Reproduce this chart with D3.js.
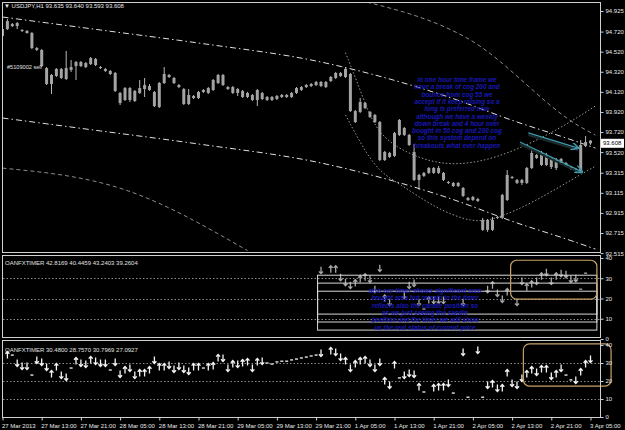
<!DOCTYPE html>
<html>
<head>
<meta charset="utf-8">
<script src="https://cdn.jsdelivr.net/npm/d3@7/dist/d3.min.js"></script>
<style>
  body { margin: 0; background: #000; }
  svg { display: block; font-family: "Liberation Sans", Arial, sans-serif; }
</style>
</head>
<body>
<svg id="chart" width="625" height="430"></svg>
<script>
// ---- data (USDJPY H1, one entry per bar) ----
const opens  = [94.745,94.745,94.795,94.775,94.736,94.726,94.706,94.556,94.537,94.357,94.198,94.278,94.348,94.248,94.338,94.377,94.417,94.367,94.397,94.447,
                94.367,94.348,94.328,94.308,94.109,94.039,94.158,94.029,94.109,94.148,94.178,94.119,93.969,94.208,94.288,94.258,94.188,94.148,93.999,94.079,
                94.059,94.119,94.109,94.139,94.208,94.288,94.168,94.168,94.109,94.129,94.069,94.089,94.039,94.109,94.069,94.039,94.049,94.069,94.089,94.069,
                94.109,94.139,94.168,94.178,94.188,94.218,94.168,94.228,94.258,94.308,94.268,94.298,93.929,93.920,94.009,93.920,93.890,93.820,93.442,93.512,
                93.482,93.691,93.760,93.691,93.522,93.243,93.283,93.313,93.362,93.313,93.313,93.223,93.213,93.183,93.163,93.064,93.044,93.054,92.845,92.746,
                92.845,92.865,92.865,93.044,93.273,93.243,93.213,93.213,93.362,93.492,93.392,93.492,93.462,93.362,93.452,93.412,93.372,93.352,93.323,93.581,93.635];
const highs  = [94.765,94.845,94.805,94.815,94.745,94.736,94.716,94.566,94.546,94.367,94.298,94.357,94.357,94.527,94.437,94.427,94.427,94.417,94.467,94.457,
                94.377,94.357,94.338,94.318,94.119,94.168,94.168,94.139,94.238,94.258,94.198,94.129,94.218,94.367,94.298,94.268,94.198,94.158,94.148,94.089,
                94.129,94.148,94.168,94.248,94.298,94.298,94.178,94.178,94.158,94.139,94.119,94.099,94.148,94.119,94.079,94.079,94.089,94.099,94.099,94.119,
                94.168,94.178,94.198,94.208,94.228,94.228,94.228,94.278,94.318,94.318,94.357,94.308,93.940,94.059,94.019,93.930,93.900,93.830,93.532,93.522,
                93.721,93.850,93.770,93.701,93.600,93.303,93.323,93.372,93.372,93.382,93.323,93.233,93.223,93.223,93.173,93.074,93.084,93.064,92.865,92.855,
                92.875,92.885,93.104,93.342,93.283,93.253,93.253,93.372,93.541,93.502,93.531,93.512,93.472,93.462,93.462,93.422,93.382,93.362,93.641,93.681,93.640];
const lows   = [94.660,94.736,94.765,94.745,94.716,94.700,94.546,94.527,94.367,94.188,94.099,94.268,94.248,94.238,94.318,94.238,94.367,94.357,94.387,94.377,
                94.348,94.318,94.288,94.119,93.989,94.029,94.019,94.019,94.099,94.069,94.129,93.969,93.959,94.198,94.258,94.198,94.158,93.989,93.989,94.049,
                94.049,94.109,94.099,94.129,94.198,94.178,94.139,94.099,94.079,94.059,94.059,94.029,93.979,94.039,94.029,94.029,94.039,94.059,94.059,94.059,
                94.099,94.129,94.158,94.168,94.178,94.168,94.158,94.218,94.248,94.268,94.258,93.920,93.810,93.910,93.949,93.860,93.810,93.432,93.432,93.462,
                93.472,93.681,93.681,93.581,93.233,93.144,93.273,93.303,93.303,93.303,93.233,93.203,93.173,93.173,93.074,93.034,93.034,93.024,92.736,92.726,
                92.736,92.855,92.855,93.034,93.253,93.203,93.193,93.203,93.352,93.452,93.382,93.382,93.352,93.342,93.402,93.372,93.342,93.323,93.303,93.571,93.593];
const closes = [94.676,94.825,94.775,94.805,94.726,94.706,94.556,94.537,94.377,94.198,94.288,94.348,94.258,94.357,94.367,94.417,94.377,94.407,94.457,94.387,
                94.357,94.328,94.298,94.129,94.009,94.158,94.039,94.129,94.158,94.188,94.139,93.979,94.208,94.298,94.268,94.208,94.168,93.999,94.089,94.059,
                94.119,94.139,94.158,94.238,94.288,94.188,94.148,94.109,94.148,94.069,94.109,94.039,94.139,94.049,94.039,94.069,94.079,94.089,94.069,94.109,
                94.158,94.168,94.188,94.198,94.218,94.178,94.218,94.268,94.308,94.278,94.348,93.929,93.820,94.019,93.959,93.870,93.820,93.442,93.522,93.472,
                93.711,93.840,93.691,93.591,93.243,93.293,93.313,93.362,93.313,93.362,93.243,93.213,93.183,93.213,93.084,93.044,93.074,93.034,92.746,92.845,
                92.746,92.875,93.094,93.293,93.263,93.213,93.243,93.362,93.512,93.462,93.512,93.392,93.372,93.442,93.412,93.382,93.352,93.342,93.591,93.621,93.608];

const priceTicks = [94.925, 94.720, 94.520, 94.320, 94.120, 93.920, 93.720, 93.520, 93.315, 93.115, 92.915, 92.715, 92.515];
const timerTicks = [40, 30, 20, 10, 0];
const timerLevels = [30, 20, 10];
const timeLabels = ["27 Mar 2013","27 Mar 13:00","27 Mar 21:00","28 Mar 05:00","28 Mar 13:00","28 Mar 21:00","29 Mar 05:00","29 Mar 13:00",
                    "29 Mar 21:00","1 Apr 05:00","1 Apr 13:00","1 Apr 21:00","2 Apr 05:00","2 Apr 13:00","2 Apr 21:00","3 Apr 05:00"];

// COG channel lines: [bar, price]
const cogUpper  = [[0,94.865],[20,94.736],[40,94.606],[65,94.417],[72,94.338],[91,94.069],[105,93.820],[115,93.661],[121,93.560]];
const cogLower  = cogUpper.map(p => [p[0], p[1] - 1.005]);
const outerLow  = [[0,93.361],[25,93.145],[50,92.540]];
const outerHigh = [[73,95.030],[95,94.650],[118,93.770],[121,93.690]];
const arcUpper  = [[70,94.510],[73,94.140],[76,93.740],[81,93.540],[89,93.390],[97,93.410],[105,93.540],[114,93.760],[121,93.980]];
const arcLower  = [[70,93.890],[76,93.340],[81,93.210],[88,92.970],[96,92.810],[101,92.860],[108,93.010],[117,93.270],[121,93.380]];

// hand drawn teal arrows: [bar0, price0, bar1, price1]
const tealArrows = [[107.3,93.711,117.5,93.561],[105.6,93.621,118.3,93.323]];

const noteMain = ["in one hour time frame we","have a break of cog 200 and","bounce from cog 55 we","accept if it keep raising so a",
                  "long is preferred now","although we have a weekly","down break and 4 hour over","bought in 50 cog and 200 cog",
                  "so this system depend on","breakouts what ever happen"];
const noteTimer = ["also our timer shows significant area","bought area but remain in the timer","reflects also the candle position so",
                   "as we just seeing the candle","position and the timer we will show","us the real status of current price"];

// OANFXTIMER arrows: [bar, value, kind]  u = up arrow, d = down arrow, s = small mark
const timer1 = [[65,34,'d'],[67,34.5,'u'],[68,34.5,'u'],[69,30.5,'d'],[70,28,'d'],[71,26.6,'d'],[72,27.6,'u'],[73,29.6,'u'],[74,30.5,'u'],[75,29.6,'d'],
                [76,24.6,'d'],[77,35,'d'],[78,20,'u'],[79,18.2,'d'],[82,21.7,'d'],[83,26.6,'d'],[84,27.6,'d'],[85,18.2,'d'],[86,14.8,'s'],[87,19.2,'u'],
                [88,19.2,'d'],[89,19.2,'d'],[90,19.2,'d'],[94,18.2,'d'],[99,24.6,'d'],[100,26.6,'u'],[101,22.7,'d'],[102,19.7,'d'],[103,23.2,'u'],[105,18.2,'d'],
                [106,28.6,'d'],[107,25.6,'u'],[108,27.1,'u'],[109,28.6,'d'],[110,31,'u'],[111,33,'d'],[112,28.6,'d'],[113,31,'u'],[114,32.5,'d'],[115,32,'d'],
                [116,29.6,'d'],[117,30,'d'],[118,24.6,'s'],[119,32.5,'s']];
const timer2 = [[1,34.4,'u'],[2,34.4,'s'],[3,30,'d'],[4,28.3,'d'],[5,28.3,'d'],[6,23.3,'s'],[7,31.7,'d'],[8,30.6,'d'],[9,27.8,'d'],[10,23.9,'u'],
                [11,27.8,'u'],[12,23.3,'d'],[13,22.2,'d'],[14,27.2,'s'],[15,31.1,'u'],[16,30,'d'],[17,29.4,'d'],[18,31.7,'u'],[19,31.1,'d'],[20,30,'d'],
                [21,30,'d'],[22,26.1,'s'],[23,30.6,'d'],[24,23.9,'d'],[25,26.1,'u'],[26,27.2,'d'],[27,23.3,'d'],[28,24.4,'u'],[29,24.4,'u'],[30,26.1,'u'],
                [31,31.7,'d'],[32,27.8,'u'],[33,27.8,'u'],[34,28.9,'d'],[35,26.7,'d'],[36,28.3,'d'],[37,26.7,'d'],[38,25.6,'d'],[39,27.8,'u'],[40,27.8,'u'],
                [41,27.2,'s'],[42,27.8,'u'],[43,28.3,'u'],[44,32.8,'u'],[45,32.8,'d'],[46,27.2,'d'],[47,29.4,'u'],[48,29.4,'d'],[49,30,'u'],[50,30.6,'u'],
                [51,27.2,'d'],[52,30.6,'u'],[53,31.1,'d'],[54,30,'s'],[55,29.4,'s'],[56,30.6,'s'],[57,31,'s'],[58,31,'s'],[59,31.7,'s'],[60,32.2,'s'],
                [61,32.8,'s'],[62,33.3,'s'],[63,33.9,'s'],[64,34.4,'s'],[65,35.6,'d'],[67,36.7,'u'],[68,36.1,'d'],[69,33.3,'d'],[70,31.1,'u'],[71,27.2,'d'],
                [72,29.4,'u'],[73,31.1,'u'],[74,31.7,'u'],[75,30,'d'],[76,27.2,'d'],[77,30.6,'d'],[78,20,'u'],[79,17.8,'d'],[80,28.9,'u'],[81,21.7,'s'],
                [82,23.3,'d'],[83,24.4,'d'],[84,23.9,'d'],[85,16.7,'u'],[86,13.9,'s'],[88,16.1,'u'],[89,16.7,'u'],[90,16.7,'u'],[91,18.9,'d'],[92,13.3,'s'],
                [94,36.1,'d'],[95,11,'s'],[97,37.2,'d'],[98,11,'s'],[99,17.8,'d'],[100,18.3,'u'],[101,16.1,'d'],[102,16.1,'u'],[103,24.4,'u'],[104,18.9,'d'],
                [105,17.8,'d'],[106,21.7,'d'],[107,23.9,'u'],[108,26.1,'u'],[109,25,'d'],[110,26.7,'u'],[111,26.7,'u'],[112,22.8,'d'],[113,23.9,'u'],[114,27.2,'d'],
                [115,23.3,'s'],[116,20.6,'s'],[117,20.6,'d'],[118,25,'u'],[119,29.4,'u'],[120,32.2,'d']];

// box levels drawn on the first timer window, and the marked zones
const timerBoxes = [[31.5, 4.4], [27.6, 8.4], [23.6, 12.3]];
const zone1 = [103.7, 121.3, 38.9, 19.7];
const zone2 = [106.3, 124.2, 40.6, 17.2];

// ---- scales ----
const svg = d3.select('#chart');
const xBar = d3.scaleLinear().domain([0, 120]).range([2.5, 590.5]);
const yPrice = d3.scaleLinear().domain([92.715, 94.925]).range([233, 11]);
const yT1 = d3.scaleLinear().domain([0, 40]).range([339, 258]);
const yT2 = d3.scaleLinear().domain([0, 40]).range([417, 345]);

svg.append('rect').attr('width', 625).attr('height', 430).attr('fill', '#000');

// clip paths for the panels
const defs = svg.append('defs');
defs.append('clipPath').attr('id', 'clipMain').append('rect').attr('x', 3).attr('y', 3).attr('width', 597).attr('height', 249);
defs.append('clipPath').attr('id', 'clipT1').append('rect').attr('x', 3).attr('y', 256).attr('width', 597).attr('height', 81);
defs.append('clipPath').attr('id', 'clipT2').append('rect').attr('x', 3).attr('y', 341).attr('width', 620).attr('height', 76);

const main = svg.append('g').attr('clip-path', 'url(#clipMain)');

// ---- channel lines ----
const line = d3.line().x(d => xBar(d[0])).y(d => yPrice(d[1])).curve(d3.curveMonotoneX);
const drawLine = (pts, color, dash) => main.append('path').datum(pts).attr('d', line)
    .attr('fill', 'none').attr('stroke', color).attr('stroke-width', 1).attr('stroke-dasharray', dash);

drawLine(cogUpper, '#e0e0e0', '6,3,1.5,3');
drawLine(cogLower, '#e0e0e0', '6,3,1.5,3');
drawLine(outerLow, '#8c8c8c', '4,3');
drawLine(outerHigh, '#8c8c8c', '4,3');
main.append('path').datum(arcUpper).attr('d', d3.line().x(d => xBar(d[0])).y(d => yPrice(d[1])).curve(d3.curveBasis))
    .attr('fill', 'none').attr('stroke', '#9a9a9a').attr('stroke-dasharray', '1.5,2');
main.append('path').datum(arcLower).attr('d', d3.line().x(d => xBar(d[0])).y(d => yPrice(d[1])).curve(d3.curveBasis))
    .attr('fill', 'none').attr('stroke', '#9a9a9a').attr('stroke-dasharray', '1.5,2');

// ---- candles ----
const bars = opens.map((o, i) => ({i: i, o: o, h: highs[i], l: lows[i], c: closes[i]}));
const candle = main.selectAll('g.candle').data(bars).enter().append('g').attr('class', 'candle');
candle.append('line')
    .attr('x1', d => xBar(d.i)).attr('x2', d => xBar(d.i))
    .attr('y1', d => yPrice(d.h)).attr('y2', d => yPrice(d.l))
    .attr('stroke', '#b8b8b8').attr('stroke-width', 1);
candle.append('rect')
    .attr('x', d => xBar(d.i) - 1.5)
    .attr('y', d => yPrice(Math.max(d.o, d.c)))
    .attr('width', 3)
    .attr('height', d => Math.max(1, Math.abs(yPrice(d.o) - yPrice(d.c))))
    .attr('fill', '#a4a4a4');

// ---- teal annotation arrows ----
defs.append('marker').attr('id', 'tealHead').attr('viewBox', '0 0 10 10').attr('refX', 9).attr('refY', 5)
    .attr('markerWidth', 6).attr('markerHeight', 6).attr('orient', 'auto')
    .append('path').attr('d', 'M0,0 L10,5 L0,10').attr('fill', 'none').attr('stroke', '#3f9aa8').attr('stroke-width', 2);
tealArrows.forEach(a => {
    main.append('line').attr('x1', xBar(a[0])).attr('y1', yPrice(a[1]) + 2).attr('x2', xBar(a[2])).attr('y2', yPrice(a[3]) + 2)
        .attr('stroke', '#1c2a2c').attr('stroke-width', 2);
    main.append('line').attr('x1', xBar(a[0])).attr('y1', yPrice(a[1])).attr('x2', xBar(a[2])).attr('y2', yPrice(a[3]))
        .attr('stroke', '#3f9aa8').attr('stroke-width', 1.3).attr('marker-end', 'url(#tealHead)');
});

// ---- notes ----
const noteText = (lines, cx, y0, step) => {
    svg.append('g').selectAll('text').data(lines).enter().append('text')
        .attr('x', cx).attr('y', (d, i) => y0 + i * step)
        .attr('text-anchor', 'middle')
        .style('font-size', '6.4px').style('font-weight', 'bold').style('font-style', 'italic')
        .attr('fill', '#1818b4').text(d => d);
};
noteText(noteMain, 457, 82, 7.3);

svg.append('text').attr('x', 7).attr('y', 69).attr('fill', '#e0e0e0').style('font-size', '5.6px').text('#5109002 sell');
svg.append('text').attr('x', 4).attr('y', 8).attr('fill', '#e8e8e8').style('font-size', '6px')
    .text('\u25BC USDJPY,H1  93.635 93.640 93.593 93.608');

// ---- timer panels ----
const arrowPath = k => k === 'u' ? 'M0,3.5 L0,-3.5 M-2,-1.3 L0,-3.5 L2,-1.3'
                    : k === 'd' ? 'M0,-3.5 L0,3.5 M-2,1.3 L0,3.5 L2,1.3'
                    : 'M-1.5,0 L1.5,0';

function timerPanel(data, yS, clipId, color, title) {
    const g = svg.append('g').attr('clip-path', 'url(#' + clipId + ')');
    timerLevels.forEach(v => {
        g.append('line').attr('x1', 3).attr('x2', 600).attr('y1', Math.round(yS(v)) + 0.5).attr('y2', Math.round(yS(v)) + 0.5)
            .attr('stroke', '#8a8a8a').attr('stroke-dasharray', '1.5,2');
    });
    g.selectAll('path.arrow').data(data).enter().append('path').attr('class', 'arrow')
        .attr('transform', d => 'translate(' + xBar(d[0]) + ',' + yS(d[1]) + ')')
        .attr('d', d => arrowPath(d[2]))
        .attr('fill', 'none').attr('stroke', color).attr('stroke-width', 1.3);
    svg.append('text').attr('x', 5).attr('y', yS(40) + 7).attr('fill', '#e0e0e0').style('font-size', '6px').text(title);
    return g;
}

const t1 = timerPanel(timer1, yT1, 'clipT1', '#a8a8a8', 'OANFXTIMER  42.8169 40.4459 43.2403 39.2604');
timerBoxes.forEach(b => {
    t1.append('rect').attr('x', xBar(64.3)).attr('y', yT1(b[0])).attr('width', xBar(121.3) - xBar(64.3))
        .attr('height', yT1(b[1]) - yT1(b[0])).attr('fill', 'none').attr('stroke', '#d8d8d8').attr('stroke-width', 1);
});
noteText(noteTimer, 425, 293, 7.3);
t1.append('rect').attr('x', xBar(zone1[0])).attr('y', yT1(zone1[2])).attr('width', xBar(zone1[1]) - xBar(zone1[0]))
    .attr('height', yT1(zone1[3]) - yT1(zone1[2])).attr('rx', 6).attr('fill', 'none').attr('stroke', '#c9a266').attr('stroke-width', 1.2);

const t2 = timerPanel(timer2, yT2, 'clipT2', '#f4f4f4', 'OANFXTIMER  30.4800 28.7570 30.7969 27.0927');
t2.append('rect').attr('x', xBar(zone2[0])).attr('y', yT2(zone2[2])).attr('width', xBar(zone2[1]) - xBar(zone2[0]))
    .attr('height', yT2(zone2[3]) - yT2(zone2[2])).attr('rx', 6).attr('fill', 'none').attr('stroke', '#c9a266').attr('stroke-width', 1.2);

// ---- frames ----
[[3, 252], [256, 337], [341, 417]].forEach(p => {
    svg.append('rect').attr('x', 2.5).attr('y', p[0] - 0.5).attr('width', 598).attr('height', p[1] - p[0] + 1)
        .attr('fill', 'none').attr('stroke', '#d0d0d0').attr('stroke-width', 1);
});

// ---- axes ----
const styleAxis = g => {
    g.selectAll('.domain').remove();
    g.selectAll('line').attr('stroke', '#d0d0d0');
    g.selectAll('text').attr('fill', '#e8e8e8').style('font-size', '6px').style('font-family', '"Liberation Sans", Arial, sans-serif');
};
svg.append('g').attr('transform', 'translate(600.5,0)')
    .call(d3.axisRight(yPrice).tickValues(priceTicks).tickSize(3).tickPadding(2).tickFormat(d3.format('.3f')))
    .call(styleAxis);
svg.append('g').attr('transform', 'translate(600.5,0)')
    .call(d3.axisRight(yT1).tickValues(timerTicks).tickSize(3).tickPadding(2)).call(styleAxis);
svg.append('g').attr('transform', 'translate(600.5,0)')
    .call(d3.axisRight(yT2).tickValues(timerTicks).tickSize(3).tickPadding(2)).call(styleAxis);

const xAxis = svg.append('g').attr('transform', 'translate(0,417.5)')
    .call(d3.axisBottom(xBar).tickValues(d3.range(0, 121, 8)).tickSize(3).tickPadding(3).tickFormat((d, i) => timeLabels[i]))
    .call(styleAxis);
xAxis.selectAll('text').attr('text-anchor', 'start').attr('dx', '-1px');

// current price marker
const last = closes[closes.length - 1];
svg.append('rect').attr('x', 601).attr('y', yPrice(last) - 4.5).attr('width', 23).attr('height', 9).attr('fill', '#fff');
svg.append('text').attr('x', 603).attr('y', yPrice(last) + 2.2).attr('fill', '#000').style('font-size', '6px').text(d3.format('.3f')(last));
</script>
</body>
</html>
